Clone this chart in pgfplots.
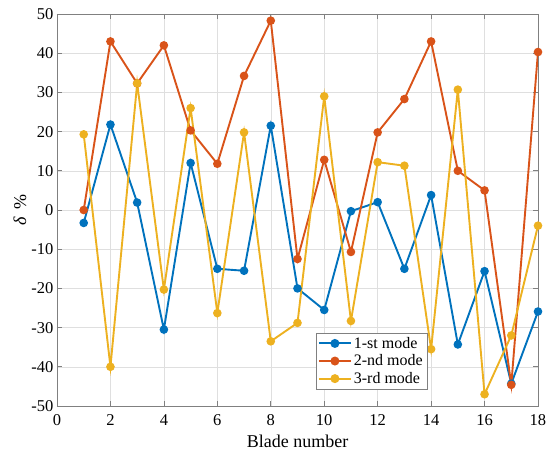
\documentclass[border=0pt]{standalone}
\usepackage{fontspec}
\setmainfont{Liberation Serif}
\usepackage{pgfplots}
\pgfplotsset{compat=1.18}
\definecolor{mblue}{rgb}{0,0.447,0.741}
\definecolor{morange}{rgb}{0.85,0.325,0.098}
\definecolor{myellow}{rgb}{0.929,0.694,0.125}
\definecolor{mgrid}{rgb}{0.875,0.875,0.875}
\definecolor{maxis}{rgb}{0.5,0.5,0.5}
\begin{document}
\begin{tikzpicture}
\path[use as bounding box] (-57pt,-49pt) rectangle (493pt,406pt);
\begin{axis}[
  at={(0,0)}, anchor=south west,
  width=481pt, height=392pt, scale only axis,
  xmin=0, xmax=18, ymin=-50, ymax=50,
  xtick={0,2,...,18}, ytick={-50,-40,...,50},
  grid=major,
  major grid style={mgrid, line width=0.5pt},
  axis line style={maxis, line width=0.6pt},
  tick style={maxis, line width=0.6pt},
  tick align=inside,
  major tick length=5pt,
  /pgf/number format/assume math mode=true,
  ticklabel style={font=\fontsize{16.5}{16.5}\selectfont, text=black},
  xticklabel style={yshift=-5pt},
  xlabel={Blade number},
  ylabel={\textit{δ}\hspace{0.45em}\%},
  label style={font=\fontsize{18}{18}\selectfont},
  xlabel style={at={(axis description cs:0.5,-0.091)}, anchor=center},
  ylabel style={at={(axis description cs:-0.077,0.5)}, anchor=center},
  legend style={at={(0.538,0.043)}, anchor=south west, draw=maxis,
    font=\fontsize{16}{17}\selectfont, inner sep=2pt, row sep=1pt,
    nodes={inner sep=2pt}},
  legend cell align=left,
  legend image code/.code={
    \draw[#1] (0pt,0pt) -- (32pt,0pt);
    \fill[#1] (16pt,0pt) circle (3.5pt);
  },
  every axis plot/.append style={line width=1.9pt, mark=*, mark size=3.3pt},
]
\addplot[mblue, mark options={fill=mblue, draw=mblue}] coordinates {
(1,-3.3) (2,21.8) (3,1.9) (4,-30.5) (5,12) (6,-15) (7,-15.5) (8,21.5) (9,-20)
(10,-25.5) (11,-0.3) (12,2) (13,-15) (14,3.8) (15,-34.3) (16,-15.6) (17,-44.3) (18,-25.9)};
\addlegendentry{1-st mode}
\addplot[morange, mark options={fill=morange, draw=morange}] coordinates {
(1,0) (2,43) (3,32.3) (4,42) (5,20.3) (6,11.8) (7,34.2) (8,48.3) (9,-12.5)
(10,12.8) (11,-10.7) (12,19.8) (13,28.3) (14,43) (15,10) (16,5) (17,-44.6) (18,40.3)};
\addlegendentry{2-nd mode}
\addplot[myellow, mark options={fill=myellow, draw=myellow}] coordinates {
(1,19.3) (2,-40) (3,32.3) (4,-20.3) (5,26) (6,-26.3) (7,19.8) (8,-33.5) (9,-28.8)
(10,29) (11,-28.3) (12,12.2) (13,11.3) (14,-35.5) (15,30.7) (16,-47) (17,-32) (18,-4)};
\addlegendentry{3-rd mode}
\end{axis}
\end{tikzpicture}
\end{document}
